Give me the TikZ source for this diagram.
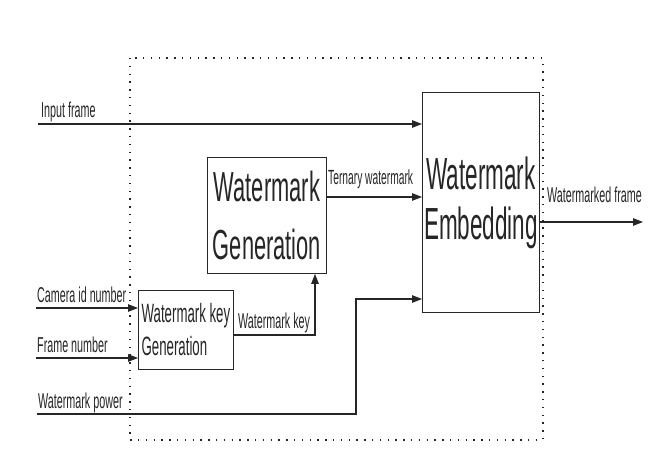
\documentclass[tikz,border=0pt]{standalone}
\usepackage{fontspec}
\setmainfont{Liberation Sans}
\newfontfamily\nf[FakeStretch=0.5]{Liberation Sans}
\newfontfamily\gf[FakeStretch=0.52]{Liberation Sans}
\usetikzlibrary{arrows.meta}
\definecolor{ink}{HTML}{262626}
\begin{document}
\begin{tikzpicture}[x=1pt,y=-1pt,
  lab/.style={font=\nf\fontsize{21.5}{21.5}\selectfont, text=ink, inner sep=0pt, anchor=base west},
  box/.style={draw=ink, line width=0.9pt, inner sep=0pt, text=ink},
  arr/.style={draw=ink, line width=1.1pt, -{Triangle[length=10pt,width=7.5pt]}},
  ln/.style={draw=ink, line width=1pt}]
\useasboundingbox (0,0) rectangle (659,476);
\fill[white] (0,0) rectangle (659,476);
% dotted frame
\draw[ink, line width=2.3pt, dash pattern=on 1.4pt off 6.4pt] (130,58) rectangle (543,440);
% blocks
\node[box, minimum width=117pt, minimum height=220pt, anchor=north west, align=center,
      font=\nf\fontsize{45}{50}\selectfont] (emb) at (422,92) {Watermark\\Embedding};
\node[box, minimum width=119pt, minimum height=116pt, anchor=north west, align=center,
      font=\gf\fontsize{42}{58}\selectfont] (gen) at (207,157) {Watermark\\Generation};
\node[box, minimum width=95pt, minimum height=79pt, anchor=north west, align=left,
      font=\nf\fontsize{26.5}{33}\selectfont] (key) at (138,290) {Watermark key\\Generation};
% inputs
\coordinate (in1) at (38,124);
\node[lab] (lin) at (41,118) {Input frame};
\draw[arr] (in1) -- (emb.west |- in1);
\coordinate (c1) at (36,308);
\node[lab] (lcam) at (37,302) {Camera id number};
\draw[arr] (c1) -- (key.west |- c1);
\coordinate (f1) at (36,358);
\node[lab] (lfr) at (37,352) {Frame number};
\draw[arr] (f1) -- (key.west |- f1);
\coordinate (p1) at (37,414);
\node[lab] (lpow) at (38,408) {Watermark power};
\draw[arr] (p1) -- (356,414) -- (356,299) -- (emb.west |- 0,299);
% internal
\node[lab] (lkey) at (238,328) {Watermark key};
\draw[arr] (key.east |- 0,335) -- (315,335) -- (gen.south -| 315,0);
\node[lab, font=\nf\fontsize{20.5}{20.5}\selectfont] (lter) at (328,185) {Ternary watermark};
\draw[arr] (gen.east |- 0,197) -- (emb.west |- 0,197);
% output
\coordinate (o1) at (643,222);
\node[lab] (lout) at (547,203) {Watermarked frame};
\draw[arr] (emb.east |- o1) -- (o1);
\end{tikzpicture}
\end{document}
